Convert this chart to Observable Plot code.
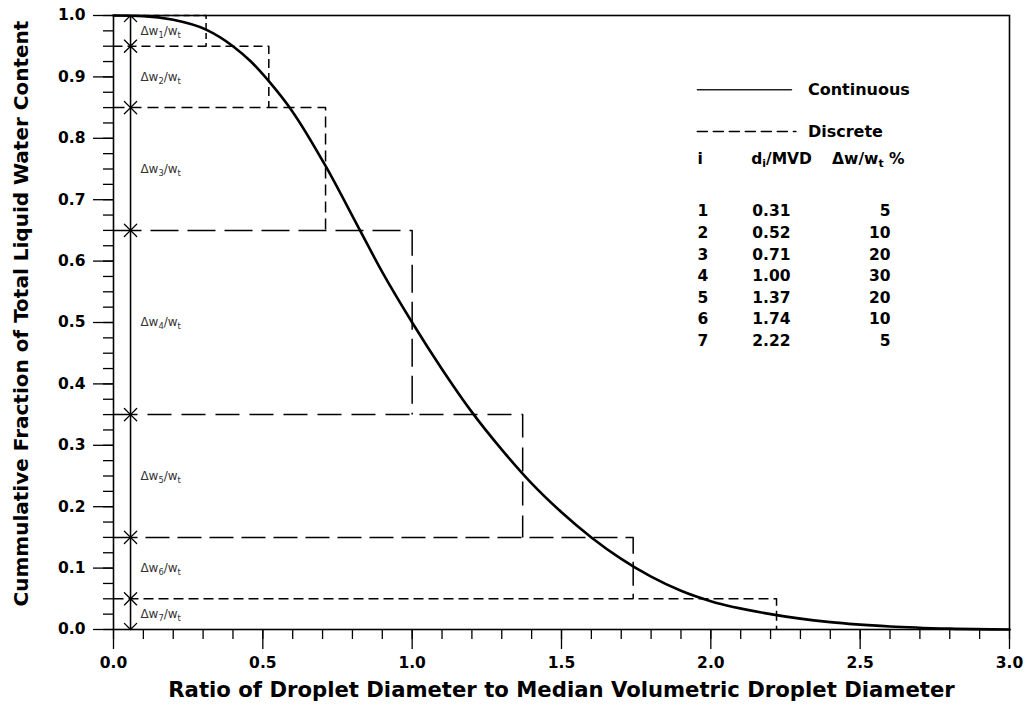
<!DOCTYPE html>
<html>
<head>
<meta charset="utf-8">
<script src="https://cdn.jsdelivr.net/npm/d3@7"></script>
<script src="https://cdn.jsdelivr.net/npm/@observablehq/plot@0.6"></script>
<style>
  html, body { margin: 0; padding: 0; background: #fff; }
  #chart { width: 1027px; height: 713px; }
</style>
</head>
<body>
<div id="chart"></div>
<script>
// ---- Continuous curve ----
const curveX = [0, 0.10, 0.20, 0.31, 0.40, 0.46, 0.52, 0.60, 0.71, 0.82, 0.90, 1.00, 1.10, 1.20, 1.30, 1.40, 1.50, 1.60, 1.70, 1.80, 1.90, 2.00, 2.20, 2.40, 2.60, 2.80, 3.00];
const curveY = [1.000, 0.999, 0.993, 0.977, 0.950, 0.925, 0.893, 0.843, 0.755, 0.655, 0.582, 0.500, 0.424, 0.354, 0.293, 0.238, 0.191, 0.150, 0.115, 0.086, 0.063, 0.046, 0.025, 0.012, 0.005, 0.0015, 0.000];

// ---- Discrete bins (table) ----
const binIndex = [1, 2, 3, 4, 5, 6, 7];
const binRatio = [0.31, 0.52, 0.71, 1.00, 1.37, 1.74, 2.22];
const binRatioLabels = ["0.31", "0.52", "0.71", "1.00", "1.37", "1.74", "2.22"];
const binPercent = [5, 10, 20, 30, 20, 10, 5];
const binDash = ["6,4", "9,5", "11,6", "28,9", "24,10", "24,8", "10,5"];

// ---- Axes ----
const xTicks = [0, 0.5, 1.0, 1.5, 2.0, 2.5, 3.0];
const xTickLabels = ["0.0", "0.5", "1.0", "1.5", "2.0", "2.5", "3.0"];
const yTicks = [0, 0.1, 0.2, 0.3, 0.4, 0.5, 0.6, 0.7, 0.8, 0.9, 1.0];
const yTickLabels = ["0.0", "0.1", "0.2", "0.3", "0.4", "0.5", "0.6", "0.7", "0.8", "0.9", "1.0"];
const xMinorTicks = d3.range(0, 3.0001, 0.1).map(v => +v.toFixed(2));
const yMinorTicks = d3.range(0, 1.0001, 0.025).map(v => +v.toFixed(3));
const xTitle = "Ratio of Droplet Diameter to Median Volumetric Droplet Diameter";
const yTitle = "Cummulative Fraction of Total Liquid Water Content";

// ---- Legend / table text ----
const legendLabels = ["Continuous", "Discrete"];
const tableHeader = ["i", "d_i/MVD", "\u0394w/w_t %"];

// ---- derived tables ----
let running = 1;
const bins = binIndex.map((n, i) => {
  const top = running;
  const bottom = +(running - binPercent[i] / 100).toFixed(4);
  running = bottom;
  return {n, d: binRatio[i], dl: binRatioLabels[i], p: binPercent[i], top, bottom, mid: (top + bottom) / 2, dash: binDash[i]};
});
const curve = curveX.map((x, i) => ({x, y: curveY[i]}));

// layout constants (data units used as positions inside the frame)
const arrowX = 0.057;
const labelX = 0.09;
const legX0 = 1.955, legX1 = 2.27, legTextX = 2.325;
const legY = [0.879, 0.811];
const headY = 0.767, row0Y = 0.681, rowStep = 0.0352;
const colI = 1.955, colD = 2.203, colP = 2.602;
const headX = [1.955, 2.135, 2.406];

const font = "DejaVu Sans";

const marks = [];

// dashed discrete steps
for (const b of bins) {
  marks.push(Plot.line([{x: 0, y: b.top}, {x: b.d, y: b.top}, {x: b.d, y: b.bottom}], {
    x: "x", y: "y", stroke: "#000", strokeWidth: 1.5, strokeDasharray: b.dash, strokeLinecap: "butt"
  }));
}

// double arrows
marks.push(Plot.arrow(bins, {x1: () => arrowX, x2: () => arrowX, y1: "bottom", y2: "top", stroke: "#000", strokeWidth: 1.3, headLength: 10, headAngle: 90}));
marks.push(Plot.arrow(bins, {x1: () => arrowX, x2: () => arrowX, y1: "top", y2: "bottom", stroke: "#000", strokeWidth: 1.3, headLength: 10, headAngle: 90}));
marks.push(Plot.text(bins, {x: () => labelX, y: "mid", text: b => `\u0394w_${b.n}/w_t`, textAnchor: "start", fontSize: 12, fontWeight: "normal", fill: "#333"}));

// continuous curve
marks.push(Plot.line(curve, {x: "x", y: "y", stroke: "#000", strokeWidth: 2.6, curve: "monotone-x"}));

// legend
marks.push(Plot.line([{x: legX0, y: legY[0]}, {x: legX1, y: legY[0]}], {x: "x", y: "y", stroke: "#222", strokeWidth: 1.5}));
marks.push(Plot.line([{x: legX0, y: legY[1]}, {x: legX1 + 0.015, y: legY[1]}], {x: "x", y: "y", stroke: "#000", strokeWidth: 1.5, strokeDasharray: "10,6"}));
marks.push(Plot.text(legendLabels, {x: () => legTextX, y: (d, i) => legY[i], text: d => d, textAnchor: "start", fontSize: 16, fontWeight: "bold"}));

// table
marks.push(Plot.text(tableHeader, {x: (d, i) => headX[i], y: () => headY, text: d => d, textAnchor: "start", fontSize: 15.5, fontWeight: "bold"}));
marks.push(Plot.text(bins, {x: () => colI, y: (d, i) => row0Y - i * rowStep, text: b => String(b.n), textAnchor: "start", fontSize: 15.5, fontWeight: "bold"}));
marks.push(Plot.text(bins, {x: () => colD, y: (d, i) => row0Y - i * rowStep, text: "dl", textAnchor: "middle", fontSize: 15.5, fontWeight: "bold"}));
marks.push(Plot.text(bins, {x: () => colP, y: (d, i) => row0Y - i * rowStep, text: b => String(b.p), textAnchor: "end", fontSize: 15.5, fontWeight: "bold"}));

// axes
marks.push(Plot.axisX({ticks: xTicks, tickSize: 20, tickPadding: 7, strokeWidth: 1.3, tickFormat: d => xTickLabels[xTicks.indexOf(d)], fontSize: 15.5, fontWeight: "bold", label: null}));
marks.push(Plot.axisX({ticks: xMinorTicks, tickSize: 10, strokeWidth: 1.3, fill: "none", label: null}));
marks.push(Plot.axisY({ticks: yTicks, tickSize: 20, tickPadding: 8, strokeWidth: 1.3, tickFormat: d => yTickLabels[yTicks.indexOf(d)], fontSize: 15.5, fontWeight: "bold", label: null}));
marks.push(Plot.axisY({ticks: yMinorTicks, tickSize: 10, strokeWidth: 1.3, fill: "none", label: null}));
marks.push(Plot.frame({stroke: "#000", strokeWidth: 1.6}));

// titles
marks.push(Plot.text([xTitle], {frameAnchor: "bottom", dy: 61, textAnchor: "middle", lineAnchor: "middle", text: d => d, fontSize: 21.2, fontWeight: "bold"}));
marks.push(Plot.text([yTitle], {frameAnchor: "left", dx: -92, dy: -9, rotate: -90, textAnchor: "middle", lineAnchor: "middle", text: d => d, fontSize: 20, fontWeight: "bold"}));

const chart = Plot.plot({
  width: 1027,
  height: 713,
  marginLeft: 113,
  marginRight: 18,
  marginTop: 15,
  marginBottom: 84,
  x: {domain: [0, 3], type: "linear"},
  y: {domain: [0, 1], type: "linear"},
  style: {fontFamily: font, fontSize: "15px", fontWeight: "bold", background: "#fff", color: "#000", overflow: "visible"},
  marks
});

// subscripts: convert "_x" into small lowered tspans
chart.querySelectorAll("text").forEach(t => {
  if (t.querySelector("tspan")) {
    t.querySelectorAll("tspan").forEach(sp => subify(sp));
  } else {
    subify(t);
  }
});
function subify(el) {
  const s = el.textContent;
  if (!s || s.indexOf("_") < 0) return;
  const parts = s.split(/_(.)/);
  el.textContent = "";
  const ns = "http://www.w3.org/2000/svg";
  let lowered = false;
  parts.forEach((p, i) => {
    if (p === "") return;
    const sp = document.createElementNS(ns, "tspan");
    sp.textContent = p;
    if (i % 2 === 1) {
      sp.setAttribute("font-size", "70%");
      if (!lowered) { sp.setAttribute("dy", "0.35em"); lowered = true; }
    } else if (lowered) {
      sp.setAttribute("dy", "-0.245em");
      lowered = false;
    }
    el.appendChild(sp);
  });
}

document.getElementById("chart").appendChild(chart);
</script>
</body>
</html>
